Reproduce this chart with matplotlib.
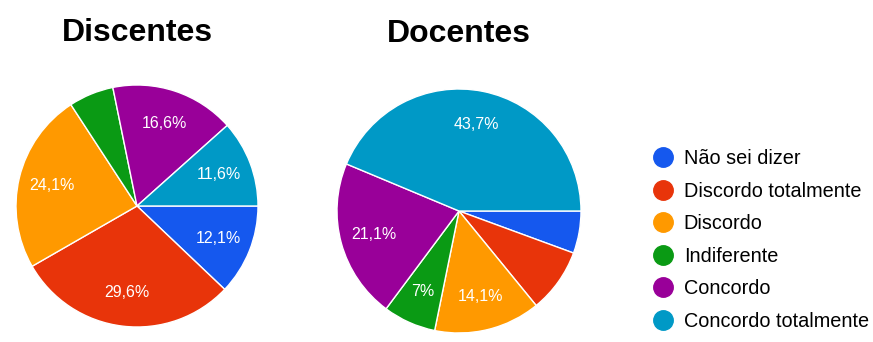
import matplotlib.pyplot as plt
from matplotlib.lines import Line2D

plt.rcParams['font.family'] = ['Liberation Sans', 'DejaVu Sans']

categorias = ['Não sei dizer', 'Discordo totalmente', 'Discordo',
              'Indiferente', 'Concordo', 'Concordo totalmente']
cores = ['#1558ee', '#e8340a', '#ff9900', '#0a9a14', '#990099', '#0099c6']

# percentuais
discentes = [12.1, 29.6, 24.1, 6.0, 16.6, 11.6]
discentes_rotulos = ['12,1%', '29,6%', '24,1%', '', '16,6%', '11,6%']
docentes = [5.6, 8.5, 14.1, 7.0, 21.1, 43.7]
docentes_rotulos = ['', '', '14,1%', '7%', '21,1%', '43,7%']

W, H = 873, 342
fig = plt.figure(figsize=(W / 100, H / 100), dpi=100)
fig.patch.set_facecolor('white')


def pizza(cx, cy, r, valores, rotulos, titulo, ty):
    ax = fig.add_axes([(cx - r) / W, (H - cy - r) / H, 2 * r / W, 2 * r / H])
    wedges, texts = ax.pie(valores, colors=cores, labels=rotulos,
                           labeldistance=0.72, startangle=0, counterclock=False,
                           wedgeprops={'edgecolor': 'white', 'linewidth': 1},
                           textprops={'color': 'white', 'fontsize': 11.5,
                                      'ha': 'center', 'va': 'center'})
    for t in texts:
        t.set_horizontalalignment('center')
    ax.set_xlim(-1, 1)
    ax.set_ylim(-1, 1)
    fig.text(cx / W, 1 - ty / H, titulo, ha='center', va='center',
             fontsize=23, fontweight='bold', color='black')


pizza(137, 206, 121, discentes, discentes_rotulos, 'Discentes', 33)
pizza(459, 211, 122, docentes, docentes_rotulos, 'Docentes', 34)

handles = [Line2D([], [], marker='o', linestyle='', markersize=14,
                  markerfacecolor=c, markeredgecolor=c) for c in cores]
fig.legend(handles, categorias, loc='center left',
           bbox_to_anchor=(654 / W, 1 - 240 / H), frameon=False,
           fontsize=14.3, handlelength=0.9, handletextpad=0.6,
           labelspacing=0.68, borderaxespad=0, borderpad=0)

fig.savefig('out.png', dpi=100)
